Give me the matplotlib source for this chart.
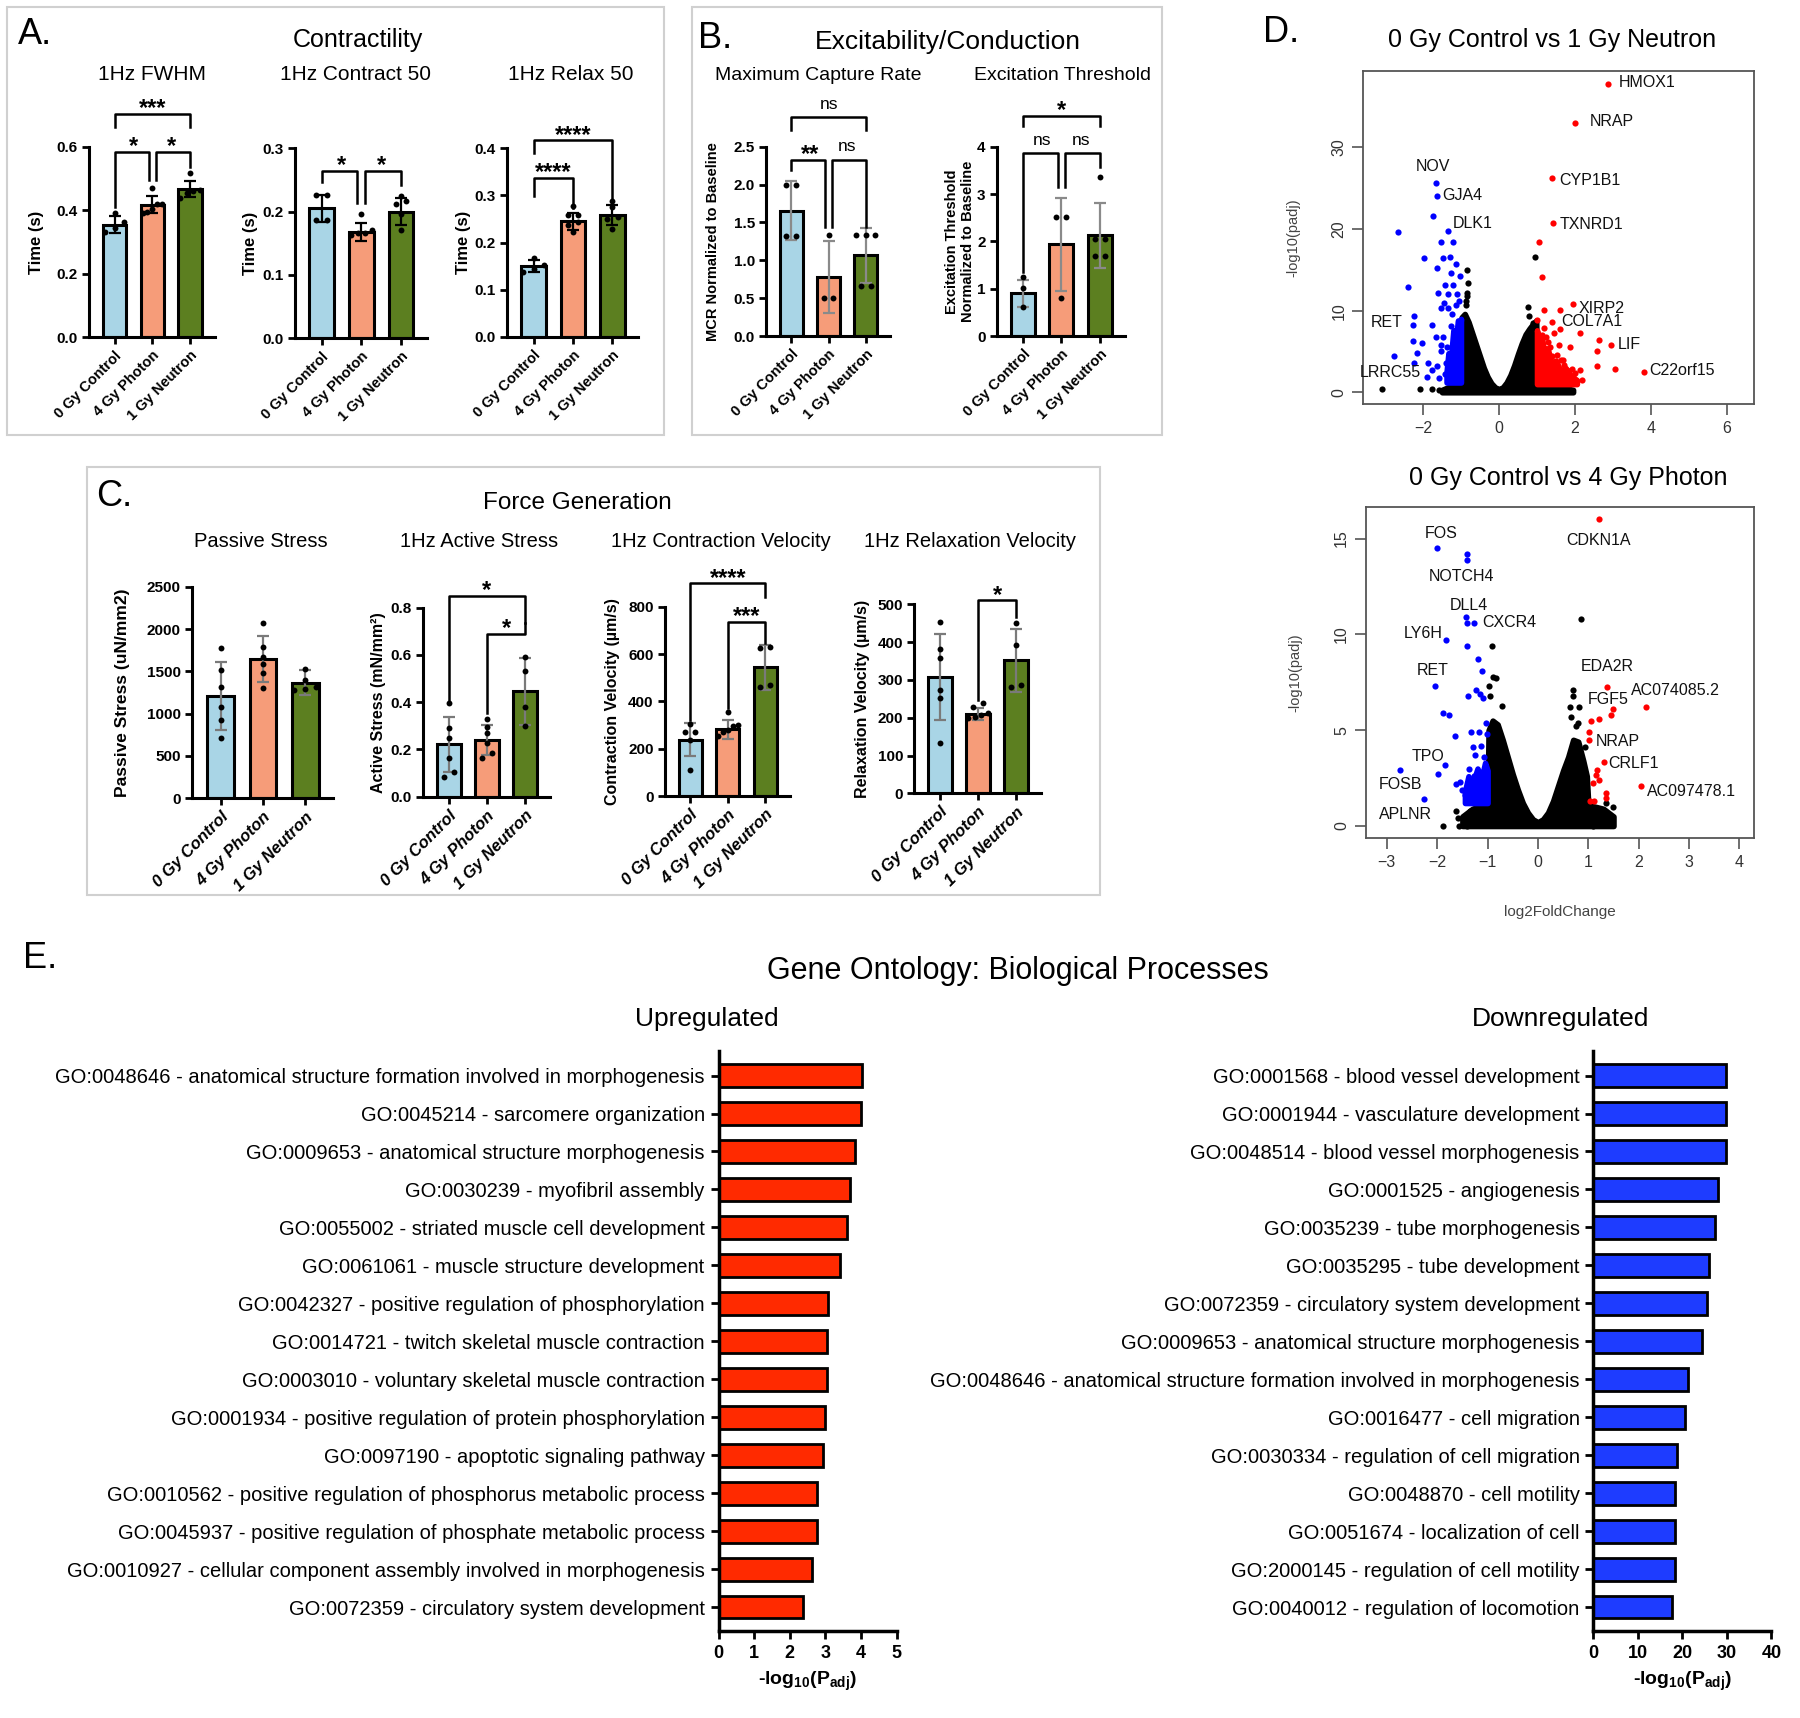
import numpy as np
import matplotlib
matplotlib.use("Agg")
import matplotlib.pyplot as plt
from matplotlib.patches import Rectangle
from matplotlib.ticker import FormatStrFormatter

plt.rcParams['font.family'] = ['Liberation Sans', 'DejaVu Sans']
plt.rcParams['mathtext.fontset'] = 'custom'
plt.rcParams['mathtext.rm'] = 'Liberation Sans'
plt.rcParams['mathtext.it'] = 'Liberation Sans:italic'
plt.rcParams['mathtext.bf'] = 'Liberation Sans:bold'

W, H = 1800, 1718

# ---------------------------------------------------------------- data
groups = ["0 Gy Control", "4 Gy Photon", "1 Gy Neutron"]
group_colors = ["#a9d5e6", "#f69c79", "#5c7f20"]

# A. contractility (s)
fwhm_mean = [0.355, 0.418, 0.466]
fwhm_sd = [0.027, 0.026, 0.025]
fwhm_pts = [[0.39, 0.362, 0.345, 0.333],
            [0.47, 0.42, 0.42, 0.405, 0.395, 0.39],
            [0.517, 0.465, 0.46, 0.455, 0.44]]
fwhm_sig = [(0, 1, 0.584, 0.411, 0.495, "*"), (1, 2, 0.584, 0.495, 0.537, "*"),
            (0, 2, 0.703, 0.663, 0.663, "***")]

c50_mean = [0.205, 0.168, 0.200]
c50_sd = [0.022, 0.014, 0.021]
c50_pts = [[0.227, 0.227, 0.186, 0.186],
           [0.196, 0.171, 0.166, 0.166, 0.163],
           [0.225, 0.216, 0.212, 0.197, 0.171]]
c50_sig = [(0, 1, 0.264, 0.247, 0.213, "*"), (1, 2, 0.264, 0.213, 0.242, "*")]

r50_mean = [0.150, 0.245, 0.258]
r50_sd = [0.013, 0.018, 0.022]
r50_pts = [[0.167, 0.152, 0.143, 0.138],
           [0.277, 0.259, 0.259, 0.243, 0.236, 0.222],
           [0.288, 0.275, 0.255, 0.25, 0.228]]
r50_sig = [(0, 1, 0.3365, 0.298, 0.273, "****"), (0, 2, 0.416, 0.389, 0.273, "****")]

# B. excitability / conduction
mcr_mean = [1.655, 0.777, 1.064]
mcr_sd = [0.387, 0.479, 0.364]
mcr_pts = [[1.99, 1.99, 1.32, 1.32], [1.33, 0.5, 0.5], [1.33, 1.33, 1.33, 0.665, 0.665]]
mcr_sig = [(0, 1, 2.33, 2.19, 1.44, "**"), (1, 2, 2.33, 1.44, 1.44, "ns"),
           (0, 2, 2.89, 2.72, 2.72, "ns")]

et_mean = [0.90, 1.94, 2.13]
et_sd = [0.29, 0.98, 0.69]
et_pts = [[1.25, 1.02, 0.62], [2.51, 2.51, 0.81], [3.35, 2.05, 2.05, 1.68, 1.68]]
et_sig = [(0, 1, 3.86, 1.36, 3.15, "ns"), (1, 2, 3.86, 3.15, 3.58, "ns"),
          (0, 2, 4.65, 4.44, 4.44, "*")]

# C. force generation
ps_mean = [1210, 1645, 1365]
ps_sd = [405, 270, 150]
ps_pts = [[1772, 1516, 1319, 1083, 925, 709],
          [2067, 1791, 1673, 1587, 1476, 1299],
          [1530, 1395, 1290, 1280, 1310]]

as_mean = [0.222, 0.240, 0.447]
as_sd = [0.117, 0.065, 0.142]
as_pts = [[0.395, 0.289, 0.247, 0.162, 0.106, 0.085],
          [0.331, 0.296, 0.268, 0.226, 0.183, 0.162],
          [0.592, 0.533, 0.381, 0.300]]
as_sig = [(0, 2, 0.849, 0.409, 0.734, "*"), (1, 2, 0.689, 0.353, 0.734, "*")]

cv_mean = [238, 283, 545]
cv_sd = [70, 40, 95]
cv_pts = [[305, 272, 272, 237, 110],
          [355, 300, 295, 280, 270, 255],
          [631, 624, 469, 462]]
cv_sig = [(0, 2, 899, 321, 842, "****"), (1, 2, 737, 370, 645, "***")]

rv_mean = [308, 210, 352]
rv_sd = [113, 15, 83]
rv_pts = [[452, 381, 359, 273, 251, 132],
          [238, 229, 212, 207, 203, 200],
          [450, 392, 287, 282]]
rv_sig = [(1, 2, 511, 247, 467, "*")]

# D. volcano 1: 0 Gy control vs 1 Gy neutron
v1_genes = [("HMOX1", 2.87, 37.8), ("NRAP", 2.01, 33.0), ("CYP1B1", 1.39, 26.2),
            ("TXNRD1", 1.41, 20.8), ("XIRP2", 1.94, 10.8), ("COL7A1", 1.40, 8.6),
            ("LIF", 2.96, 5.8), ("C22orf15", 3.82, 2.5), ("NOV", -1.67, 25.7),
            ("GJA4", -1.63, 24.0), ("DLK1", -1.34, 19.8), ("RET", -2.24, 9.4),
            ("LRRC55", -1.90, 1.9)]
v1_label_off = [(39, 1), (36, 1), (38, -2), (39, -2), (29, -4), (40, 1), (18, 0), (38, 1),
                (-3, 16), (25, 1), (25, 7), (-27, -7), (-36, 4)]
v1_red_x = [1.05, 1.14, 1.18, 1.60, 1.0, 1.18, 1.6, 2.14, 2.62, 2.58, 1.57, 1.14, 1.88, 1.22,
            2.58, 3.06, 2.14, 1.40, 1.62, 1.79, 1.09, 1.27, 1.96, 2.18, 1.53, 1.3, 1.45, 1.7,
            1.85, 2.0, 1.1, 1.35, 1.25, 1.52, 1.68, 1.92]
v1_red_y = [18.4, 14.1, 10.1, 10.1, 8.8, 7.9, 7.7, 7.3, 6.4, 5.1, 5.8, 7.0, 5.6, 5.2,
            3.2, 2.9, 2.7, 4.4, 4.0, 2.7, 3.6, 3.2, 1.9, 1.5, 2.5, 6.2, 7.3, 3.4,
            2.2, 2.4, 5.8, 5.5, 6.8, 4.6, 3.9, 2.9]
v1_blue_x = [-1.73, -2.66, -1.53, -1.20, -1.98, -1.48, -1.28, -1.62, -1.14, -1.02, -1.27,
             -2.40, -1.42, -1.20, -1.34, -1.14, -1.53, -1.34, -2.27, -1.77, -1.27, -2.27,
             -2.03, -1.66, -1.53, -2.75, -2.16, -2.24, -1.88, -1.53, -1.75, -1.62, -1.40,
             -1.48, -1.45, -1.6, -1.1, -1.05, -1.42, -1.36, -1.24, -1.58]
v1_blue_y = [21.6, 19.7, 18.4, 18.4, 16.4, 16.4, 16.6, 15.2, 15.7, 14.2, 14.6,
             12.9, 13.2, 13.1, 12.0, 10.7, 10.3, 10.3, 8.3, 8.3, 8.1, 6.3,
             6.0, 6.8, 5.8, 4.5, 4.8, 3.6, 3.6, 5.0, 2.7, 3.2, 3.6,
             6.8, 11.0, 12.2, 12.0, 11.2, 2.2, 5.6, 9.6, 1.8]
v1_black_x = [-3.08, -2.07, -1.75, -1.57, -1.40, -0.85, -0.85, -0.86, -0.83, -0.81, 0.96,
              0.76, 0.9, -0.88, 0.8]
v1_black_y = [0.4, 0.4, 0.4, 0.3, 0.3, 15.0, 12.2, 10.7, 11.8, 13.4, 16.6,
              10.5, 8.5, 11.2, 9.3]
v1_env_x = [-1.50, -1.30, -1.00, -0.98, -0.90, -0.80, -0.70, -0.60, -0.50, -0.40, -0.30,
            -0.20, -0.10, 0.00, 0.10, 0.20, 0.30, 0.40, 0.50, 0.60, 0.70, 0.80, 0.90,
            0.98, 1.00, 1.50, 1.95]
v1_env_y = [0.3, 0.7, 1.0, 9.2, 9.6, 8.6, 7.2, 5.8, 4.4, 3.0, 1.9,
            1.1, 0.6, 0.4, 0.6, 1.2, 2.1, 3.3, 4.7, 6.0, 7.1, 7.8, 8.4,
            8.8, 1.0, 0.8, 0.3]
v1_blue_blob_x = [-1.38, -1.33, -1.27, -1.20, -1.14, -1.08, -1.02, -1.0]
v1_blue_blob_top = [2.5, 4.8, 3.9, 7.6, 6.2, 8.8, 8.0, 9.0]
v1_red_blob_x = [1.0, 1.06, 1.12, 1.20, 1.28, 1.38, 1.50, 1.62, 1.75, 1.90, 2.05]
v1_red_blob_top = [7.6, 6.3, 7.0, 4.6, 5.4, 3.6, 3.9, 2.6, 3.0, 2.0, 1.5]

# D. volcano 2: 0 Gy control vs 4 Gy photon
v2_genes = [("FOS", -2.0, 14.5), ("NOTCH4", -1.40, 13.9), ("DLL4", -1.42, 10.9),
            ("CXCR4", -1.26, 10.57), ("LY6H", -1.83, 9.7), ("RET", -2.05, 7.3),
            ("TPO", -1.85, 3.2), ("FOSB", -2.74, 2.9), ("APLNR", -2.26, 1.4),
            ("CDKN1A", 1.22, 16.0), ("EDA2R", 1.37, 7.26), ("AC074085.2", 2.15, 6.2),
            ("FGF5", 1.50, 6.1), ("NRAP", 1.01, 4.5), ("CRLF1", 1.31, 3.35),
            ("AC097478.1", 2.04, 2.1)]
v2_label_off = [(4, 15), (-6, -17), (2, 12), (35, 1), (-23, 7), (-2, 16), (-17, 8), (1, -14),
                (-19, -15), (-1, -21), (0, 20), (29, 17), (-5, 10), (29, -2), (30, -2),
                (51, -6)]
v2_red_x = [1.45, 1.06, 1.21, 1.02, 1.17, 1.16, 1.21, 1.09, 1.35, 1.35, 1.04, 1.11]
v2_red_y = [5.8, 5.5, 5.6, 4.9, 2.9, 2.65, 2.4, 2.25, 1.7, 1.45, 1.3, 1.3]
v2_blue_x = [-1.40, -1.41, -1.41, -1.19, -1.12, -1.22, -1.16, -1.39, -1.10, -1.89, -1.76,
             -1.04, -1.65, -1.32, -1.17, -1.02, -1.14, -1.29, -1.25, -1.99, -1.62, -1.55,
             -1.45, -1.05, -1.50, -1.36, -1.08, -1.27]
v2_blue_y = [14.2, 10.6, 9.4, 8.7, 8.1, 7.1, 6.9, 6.8, 6.7, 5.9, 5.8,
             5.4, 4.7, 4.9, 4.9, 4.8, 4.2, 4.1, 3.7, 2.7, 2.2, 2.3,
             1.6, 1.4, 1.9, 3.0, 3.6, 2.6]
v2_black_x = [0.86, -0.92, -0.89, -0.83, -0.97, -0.96, -0.71, 0.69, 0.69, 0.64, 0.82, 0.66,
              0.75, 0.79, 0.94, 1.35, 1.49, 1.09, -1.88, -1.56, -1.41, -1.25, -1.62, -1.59,
              -1.22, -1.35]
v2_black_y = [10.8, 9.4, 7.8, 7.7, 7.3, 6.8, 6.25, 7.1, 6.8, 6.2, 6.2, 5.7,
              5.2, 5.35, 4.1, 1.2, 1.0, 0.0, 0.0, 0.0, 0.0, 0.05, 0.8, 0.4,
              0.3, 0.8]
v2_env_x = [-1.50, -1.30, -1.00, -0.98, -0.90, -0.80, -0.70, -0.60, -0.50, -0.40, -0.30,
            -0.20, -0.10, 0.00, 0.10, 0.20, 0.30, 0.40, 0.50, 0.60, 0.70, 0.80, 0.90,
            0.97, 1.00, 1.30, 1.50]
v2_env_y = [0.5, 0.9, 1.2, 5.0, 5.5, 5.3, 4.5, 3.6, 2.7, 1.9, 1.2,
            0.7, 0.35, 0.2, 0.35, 0.7, 1.3, 2.1, 2.9, 3.6, 4.5, 4.4, 3.4,
            2.6, 1.1, 0.9, 0.5]
v2_blue_blob_x = [-1.45, -1.38, -1.30, -1.20, -1.12, -1.05, -1.0]
v2_blue_blob_top = [1.8, 2.6, 2.2, 3.0, 2.5, 3.3, 2.9]

# E. gene ontology
up_terms = ["GO:0048646 - anatomical structure formation involved in morphogenesis",
            "GO:0045214 - sarcomere organization",
            "GO:0009653 - anatomical structure morphogenesis",
            "GO:0030239 - myofibril assembly",
            "GO:0055002 - striated muscle cell development",
            "GO:0061061 - muscle structure development",
            "GO:0042327 - positive regulation of phosphorylation",
            "GO:0014721 - twitch skeletal muscle contraction",
            "GO:0003010 - voluntary skeletal muscle contraction",
            "GO:0001934 - positive regulation of protein phosphorylation",
            "GO:0097190 - apoptotic signaling pathway",
            "GO:0010562 - positive regulation of phosphorus metabolic process",
            "GO:0045937 - positive regulation of phosphate metabolic process",
            "GO:0010927 - cellular component assembly involved in morphogenesis",
            "GO:0072359 - circulatory system development"]
up_vals = [4.03, 3.99, 3.83, 3.70, 3.61, 3.42, 3.07, 3.04, 3.04, 2.99, 2.94, 2.77, 2.77,
           2.61, 2.38]
down_terms = ["GO:0001568 - blood vessel development",
              "GO:0001944 - vasculature development",
              "GO:0048514 - blood vessel morphogenesis",
              "GO:0001525 - angiogenesis",
              "GO:0035239 - tube morphogenesis",
              "GO:0035295 - tube development",
              "GO:0072359 - circulatory system development",
              "GO:0009653 - anatomical structure morphogenesis",
              "GO:0048646 - anatomical structure formation involved in morphogenesis",
              "GO:0016477 - cell migration",
              "GO:0030334 - regulation of cell migration",
              "GO:0048870 - cell motility",
              "GO:0051674 - localization of cell",
              "GO:2000145 - regulation of cell motility",
              "GO:0040012 - regulation of locomotion"]
down_vals = [29.9, 29.9, 29.9, 28.1, 27.4, 25.9, 25.6, 24.5, 21.2, 20.5, 18.8, 18.3, 18.3,
             18.3, 17.6]

# ---------------------------------------------------------------- helpers
fig = plt.figure(figsize=(18, 17.18), dpi=100)


def px_axes(x0, y0, x1, y1):
    return fig.add_axes([x0 / W, 1 - y1 / H, (x1 - x0) / W, (y1 - y0) / H])


def px_text(x, y, s, **kw):
    return fig.text(x / W, 1 - y / H, s, **kw)


def px_box(x0, y0, x1, y1):
    fig.add_artist(Rectangle((x0 / W, 1 - y1 / H), (x1 - x0) / W, (y1 - y0) / H,
                             transform=fig.transFigure, fill=False,
                             edgecolor='#d0d0d0', linewidth=1.5, zorder=0))


def spread(vals, tol):
    '''horizontal offsets so that dots with close values sit side by side'''
    vals = np.asarray(vals, float)
    order = np.argsort(vals)
    offs = np.zeros(len(vals))
    clusters, cur = [], [order[0]]
    for a, b in zip(order[:-1], order[1:]):
        if vals[b] - vals[a] <= tol:
            cur.append(b)
        else:
            clusters.append(cur)
            cur = [b]
    clusters.append(cur)
    for c in clusters:
        n = len(c)
        if n == 1:
            continue
        w = min(0.13 * (n - 1), 0.26)
        for k, idx in zip(np.linspace(-w, w, n), c):
            offs[idx] = k
    return offs


def draw_sig(ax, sig, star_size):
    for (i, j, top, lb, rb, lab) in sig:
        xi, xj = i, j
        for (a, b, t2, _l, _r, _s) in sig:
            if t2 == top and (a, b) != (i, j):
                if a == j:
                    xj = j - 0.1
                if b == i:
                    xi = i + 0.1
        ax.plot([xi, xi, xj, xj], [lb, top, top, rb], color='black', lw=1.8,
                clip_on=False, zorder=5)
        if lab == "ns":
            ax.annotate(lab, ((i + j) / 2, top), xytext=(0, 6), textcoords='offset points',
                        ha='center', va='baseline', fontsize=12.5, annotation_clip=False)
        else:
            ax.annotate(lab, ((i + j) / 2, top), xytext=(0, -1), textcoords='offset points',
                        ha='center', va='baseline', fontsize=star_size, fontweight='bold',
                        annotation_clip=False)


def bar_panel(box, means, sds, pts, ymax, yticks, fmt, sig, ylabel, ylabel_x,
              err_color, tick_kw, ylab_size=12, star_size=17):
    ax = px_axes(*box)
    xs = np.arange(len(groups))
    ax.bar(xs, means, width=0.62, color=group_colors, edgecolor='black',
           linewidth=2.2, zorder=2)
    ax.errorbar(xs, means, yerr=sds, fmt='none', ecolor=err_color, elinewidth=1.6,
                capsize=4.5, capthick=1.6, zorder=3)
    for i, vals in enumerate(pts):
        ax.scatter(i + spread(vals, 0.03 * ymax), vals, s=18, color='black', lw=0,
                   zorder=4, clip_on=False)
    ax.set_xlim(-0.68, 2.65)
    ax.set_ylim(0, ymax)
    ax.set_yticks(yticks)
    ax.yaxis.set_major_formatter(FormatStrFormatter(fmt))
    ax.set_xticks(xs)
    ax.set_xticklabels(groups, rotation=45, ha='right', va='top',
                       rotation_mode='anchor', **tick_kw)
    for t in ax.get_yticklabels():
        t.set_fontweight('bold')
        t.set_fontsize(11)
    for s in ('top', 'right'):
        ax.spines[s].set_visible(False)
    for s in ('left', 'bottom'):
        ax.spines[s].set_linewidth(2.2)
    ax.tick_params(direction='out', length=5, width=2, pad=3)
    ax.patch.set_visible(False)
    draw_sig(ax, sig, star_size)
    px_text(ylabel_x, (box[1] + box[3]) / 2, ylabel, rotation=90, ha='center',
            va='center', fontsize=ylab_size, fontweight='bold', multialignment='center')
    return ax


def volcano(box, env_x, env_y, blobs, red_x, red_y, blue_x, blue_y, black_x, black_y,
            genes, offsets, xlim, ylim, xticks, yticks, xlabel=None):
    ax = px_axes(*box)
    ax.fill_between(env_x, 0, env_y, facecolor='black', edgecolor='black', lw=4,
                    joinstyle='round', zorder=1)
    for bx, btop, bbot, c in blobs:
        ax.fill_between(bx, bbot, btop, facecolor=c, edgecolor=c, lw=4,
                        joinstyle='round', zorder=2)
    ax.scatter(black_x, black_y, s=20, c='black', lw=0, zorder=2)
    ax.scatter(blue_x, blue_y, s=20, c='blue', lw=0, zorder=3)
    ax.scatter(red_x, red_y, s=20, c='red', lw=0, zorder=3)
    for (name, gx, gy), (dx, dy) in zip(genes, offsets):
        ax.scatter([gx], [gy], s=20, c='red' if gx > 0 else 'blue', lw=0, zorder=4)
        ax.annotate(name, (gx, gy), xytext=(dx, dy), textcoords='offset pixels',
                    ha='center', va='center', fontsize=11.5, color='#111')
    ax.set_xlim(*xlim)
    ax.set_ylim(*ylim)
    ax.set_xticks(xticks)
    ax.set_yticks(yticks)
    for s in ax.spines.values():
        s.set_color('#555')
        s.set_linewidth(1.3)
    ax.tick_params(direction='out', length=8, width=1.2, color='#555', labelsize=11.5,
                   labelcolor='#333', pad=4)
    ax.tick_params(axis='y', labelrotation=90)
    for t in ax.get_yticklabels():
        t.set_verticalalignment('center')
    ax.set_ylabel('-log10(padj)', fontsize=10.5, color='#444')
    ax.yaxis.set_label_coords(-63 / (box[2] - box[0]), 0.5)
    if xlabel:
        ax.set_xlabel(xlabel, fontsize=11, color='#444')
        ax.xaxis.set_label_coords(0.5, -67 / (box[3] - box[1]))
    return ax


def go_panel(box, terms, vals, color, xmax, xticks):
    ax = px_axes(*box)
    ys = np.arange(len(terms))
    ax.barh(ys, vals, height=0.6, color=color, edgecolor='black', linewidth=2, zorder=2)
    ax.set_ylim(len(terms) - 0.37, -0.66)
    ax.set_xlim(0, xmax)
    ax.set_yticks(ys)
    ax.set_yticklabels(terms, fontsize=14.5)
    ax.set_xticks(xticks)
    for t in ax.get_xticklabels():
        t.set_fontweight('bold')
        t.set_fontsize(13)
    for s in ('top', 'right'):
        ax.spines[s].set_visible(False)
    for s in ('left', 'bottom'):
        ax.spines[s].set_linewidth(2.5)
    ax.tick_params(direction='out', length=6, width=2, pad=4)
    ax.set_xlabel(r'-log$_{\mathbf{10}}$(P$_{\mathbf{adj}}$)', fontsize=14,
                  fontweight='bold', labelpad=6)
    ax.patch.set_visible(False)
    return ax


# ---------------------------------------------------------------- panel A
px_box(6.6, 6.7, 663.7, 435)
px_text(18, 35, "A.", fontsize=26, ha='left', va='center')
px_text(358, 40, "Contractility", fontsize=18, ha='center', va='center')
a_tick = dict(fontsize=10.5, fontweight='bold')
bar_panel((89, 146.7, 214.5, 337.3), fwhm_mean, fwhm_sd, fwhm_pts, 0.6,
          [0, 0.2, 0.4, 0.6], '%.1f', fwhm_sig, "Time (s)", 37, 'black', a_tick)
bar_panel((294.5, 148.3, 427, 338.3), c50_mean, c50_sd, c50_pts, 0.3,
          [0, 0.1, 0.2, 0.3], '%.1f', c50_sig, "Time (s)", 250.5, 'black', a_tick)
bar_panel((506.8, 148, 638, 337), r50_mean, r50_sd, r50_pts, 0.4,
          [0, 0.1, 0.2, 0.3, 0.4], '%.1f', r50_sig, "Time (s)", 463.7, 'black', a_tick)
for x, s in [(152.5, "1Hz FWHM"), (356, "1Hz Contract 50"), (571, "1Hz Relax 50")]:
    px_text(x, 75, s, fontsize=15, ha='center', va='center')

# ---------------------------------------------------------------- panel B
px_box(691.7, 6.7, 1162, 435)
px_text(698, 38, "B.", fontsize=26, ha='left', va='center')
px_text(948, 42, "Excitability/Conduction", fontsize=19, ha='center', va='center')
bar_panel((766, 146.7, 890, 336), mcr_mean, mcr_sd, mcr_pts, 2.5,
          [0, 0.5, 1.0, 1.5, 2.0, 2.5], '%.1f', mcr_sig, "MCR Normalized to Baseline", 713,
          '#8a8a8a', a_tick, ylab_size=10.5)
bar_panel((996.7, 146.7, 1125, 336), et_mean, et_sd, et_pts, 4,
          [0, 1, 2, 3, 4], '%d', et_sig,
          "Excitation Threshold\nNormalized to Baseline", 960, '#8a8a8a', a_tick,
          ylab_size=10.5)
px_text(818, 76, "Maximum Capture Rate", fontsize=14, ha='center', va='center')
px_text(1063, 76, "Excitation Threshold", fontsize=14, ha='center', va='center')

# ---------------------------------------------------------------- panel C
px_box(86.6, 466.7, 1099.7, 895)
px_text(96, 496.7, "C.", fontsize=26, ha='left', va='center')
px_text(577, 503, "Force Generation", fontsize=17.5, ha='center', va='center')
c_tick = dict(fontsize=12, fontweight='bold', fontstyle='italic')
bar_panel((191.7, 586.7, 333, 798.3), ps_mean, ps_sd, ps_pts, 2500,
          [0, 500, 1000, 1500, 2000, 2500], '%d', [], "Passive Stress (uN/mm2)", 122.7,
          '#7a7a7a', c_tick, ylab_size=12.5)
bar_panel((423, 607.7, 549.8, 796.7), as_mean, as_sd, as_pts, 0.8,
          [0, 0.2, 0.4, 0.6, 0.8], '%.1f', as_sig, "Active Stress (mN/mm²)", 379,
          '#7a7a7a', c_tick, ylab_size=11.5)
bar_panel((664.8, 606.7, 789.6, 796), cv_mean, cv_sd, cv_pts, 800,
          [0, 200, 400, 600, 800], '%d', cv_sig, "Contraction Velocity (µm/s)", 612,
          '#7a7a7a', c_tick, ylab_size=11.5)
bar_panel((914.4, 604.3, 1040.6, 793.3), rv_mean, rv_sd, rv_pts, 500,
          [0, 100, 200, 300, 400, 500], '%d', rv_sig, "Relaxation Velocity (µm/s)", 862,
          '#7a7a7a', c_tick, ylab_size=11.5)
for x, s in [(260.7, "Passive Stress"), (478.8, "1Hz Active Stress"),
             (720.6, "1Hz Contraction Velocity"), (970.3, "1Hz Relaxation Velocity")]:
    px_text(x, 541.7, s, fontsize=14.5, ha='center', va='center')

# ---------------------------------------------------------------- panel D
px_text(1263, 32, "D.", fontsize=26, ha='left', va='center')
px_text(1552, 40, "0 Gy Control vs 1 Gy Neutron", fontsize=18, ha='center', va='center')
volcano((1363.3, 70.7, 1754, 404.3), v1_env_x, v1_env_y,
        [(v1_blue_blob_x, v1_blue_blob_top, 1.2, 'blue'),
         (v1_red_blob_x, v1_red_blob_top, 1.0, 'red')],
        v1_red_x, v1_red_y, v1_blue_x, v1_blue_y, v1_black_x, v1_black_y,
        v1_genes, v1_label_off, (-3.57, 6.71), (-1.47, 39.4), [-2, 0, 2, 4, 6],
        [0, 10, 20, 30])
px_text(1568, 478, "0 Gy Control vs 4 Gy Photon", fontsize=18, ha='center', va='center')
volcano((1365.7, 507.3, 1754, 838.3), v2_env_x, v2_env_y,
        [(v2_blue_blob_x, v2_blue_blob_top, 1.2, 'blue')],
        v2_red_x, v2_red_y, v2_blue_x, v2_blue_y, v2_black_x, v2_black_y,
        v2_genes, v2_label_off, (-3.42, 4.29), (-0.64, 16.63), [-3, -2, -1, 0, 1, 2, 3, 4],
        [0, 5, 10, 15], xlabel="log2FoldChange")

# ---------------------------------------------------------------- panel E
px_text(23, 958.6, "E.", fontsize=26, ha='left', va='center')
px_text(1018, 971, "Gene Ontology: Biological Processes", fontsize=22, ha='center',
        va='center')
px_text(707, 1019, "Upregulated", fontsize=19, ha='center', va='center')
px_text(1561, 1019, "Downregulated", fontsize=19, ha='center', va='center')
go_panel((718.6, 1050.5, 896.6, 1631), up_terms, up_vals, '#ff2a00', 5,
         [0, 1, 2, 3, 4, 5])
go_panel((1593.4, 1050.5, 1771.4, 1631), down_terms, down_vals, '#1e3cff', 40,
         [0, 10, 20, 30, 40])

fig.savefig("out.png", dpi=100)
